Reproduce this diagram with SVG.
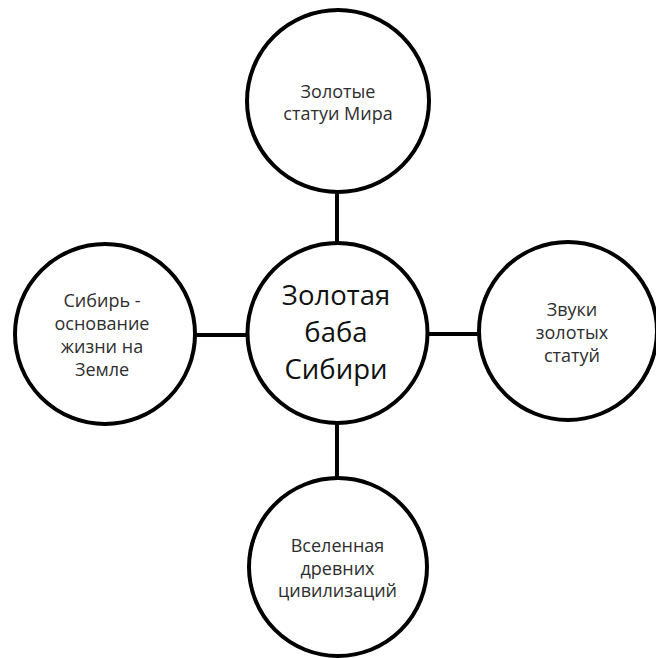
<svg xmlns="http://www.w3.org/2000/svg" width="656" height="658" viewBox="0 0 656 658">
<style>
.c{fill:#fff;stroke:#000;stroke-width:4}
.l{stroke:#000;stroke-width:4}
.t{font-family:"Open Sans","Liberation Sans",sans-serif;font-size:18px;fill:#2e2e2e;text-anchor:middle}
.big{font-family:"Open Sans","Liberation Sans",sans-serif;font-size:27.5px;fill:#111;text-anchor:middle}
</style>
<rect width="656" height="658" fill="#fff"/>
<g id="connectors">
<line class="l" x1="337" y1="192" x2="337" y2="243"/>
<line class="l" x1="195" y1="335" x2="247" y2="335"/>
<line class="l" x1="428" y1="334" x2="482" y2="334"/>
<line class="l" x1="337" y1="423" x2="337" y2="478"/>
</g>
<g id="center">
<circle class="c" cx="337.5" cy="333" r="90"/>
<text class="big" x="336" y="305">Золотая</text>
<text class="big" x="336" y="342">баба</text>
<text class="big" x="336" y="379">Сибири</text>
</g>
<g id="top">
<circle class="c" cx="338" cy="101" r="91"/>
<text class="t" x="338" y="98">Золотые</text>
<text class="t" x="338" y="120">статуи Мира</text>
</g>
<g id="left">
<circle class="c" cx="105" cy="334" r="90"/>
<text class="t" x="102" y="307">Сибирь -</text>
<text class="t" x="102" y="330">основание</text>
<text class="t" x="102" y="353">жизни на</text>
<text class="t" x="102" y="376">Земле</text>
</g>
<g id="right">
<circle class="c" cx="568" cy="331" r="89"/>
<text class="t" x="572" y="316">Звуки</text>
<text class="t" x="572" y="339">золотых</text>
<text class="t" x="572" y="362">статуй</text>
</g>
<g id="bottom">
<circle class="c" cx="338" cy="567" r="89"/>
<text class="t" x="337.5" y="552">Вселенная</text>
<text class="t" x="337.5" y="575">древних</text>
<text class="t" x="337.5" y="597">цивилизаций</text>
</g>
</svg>
